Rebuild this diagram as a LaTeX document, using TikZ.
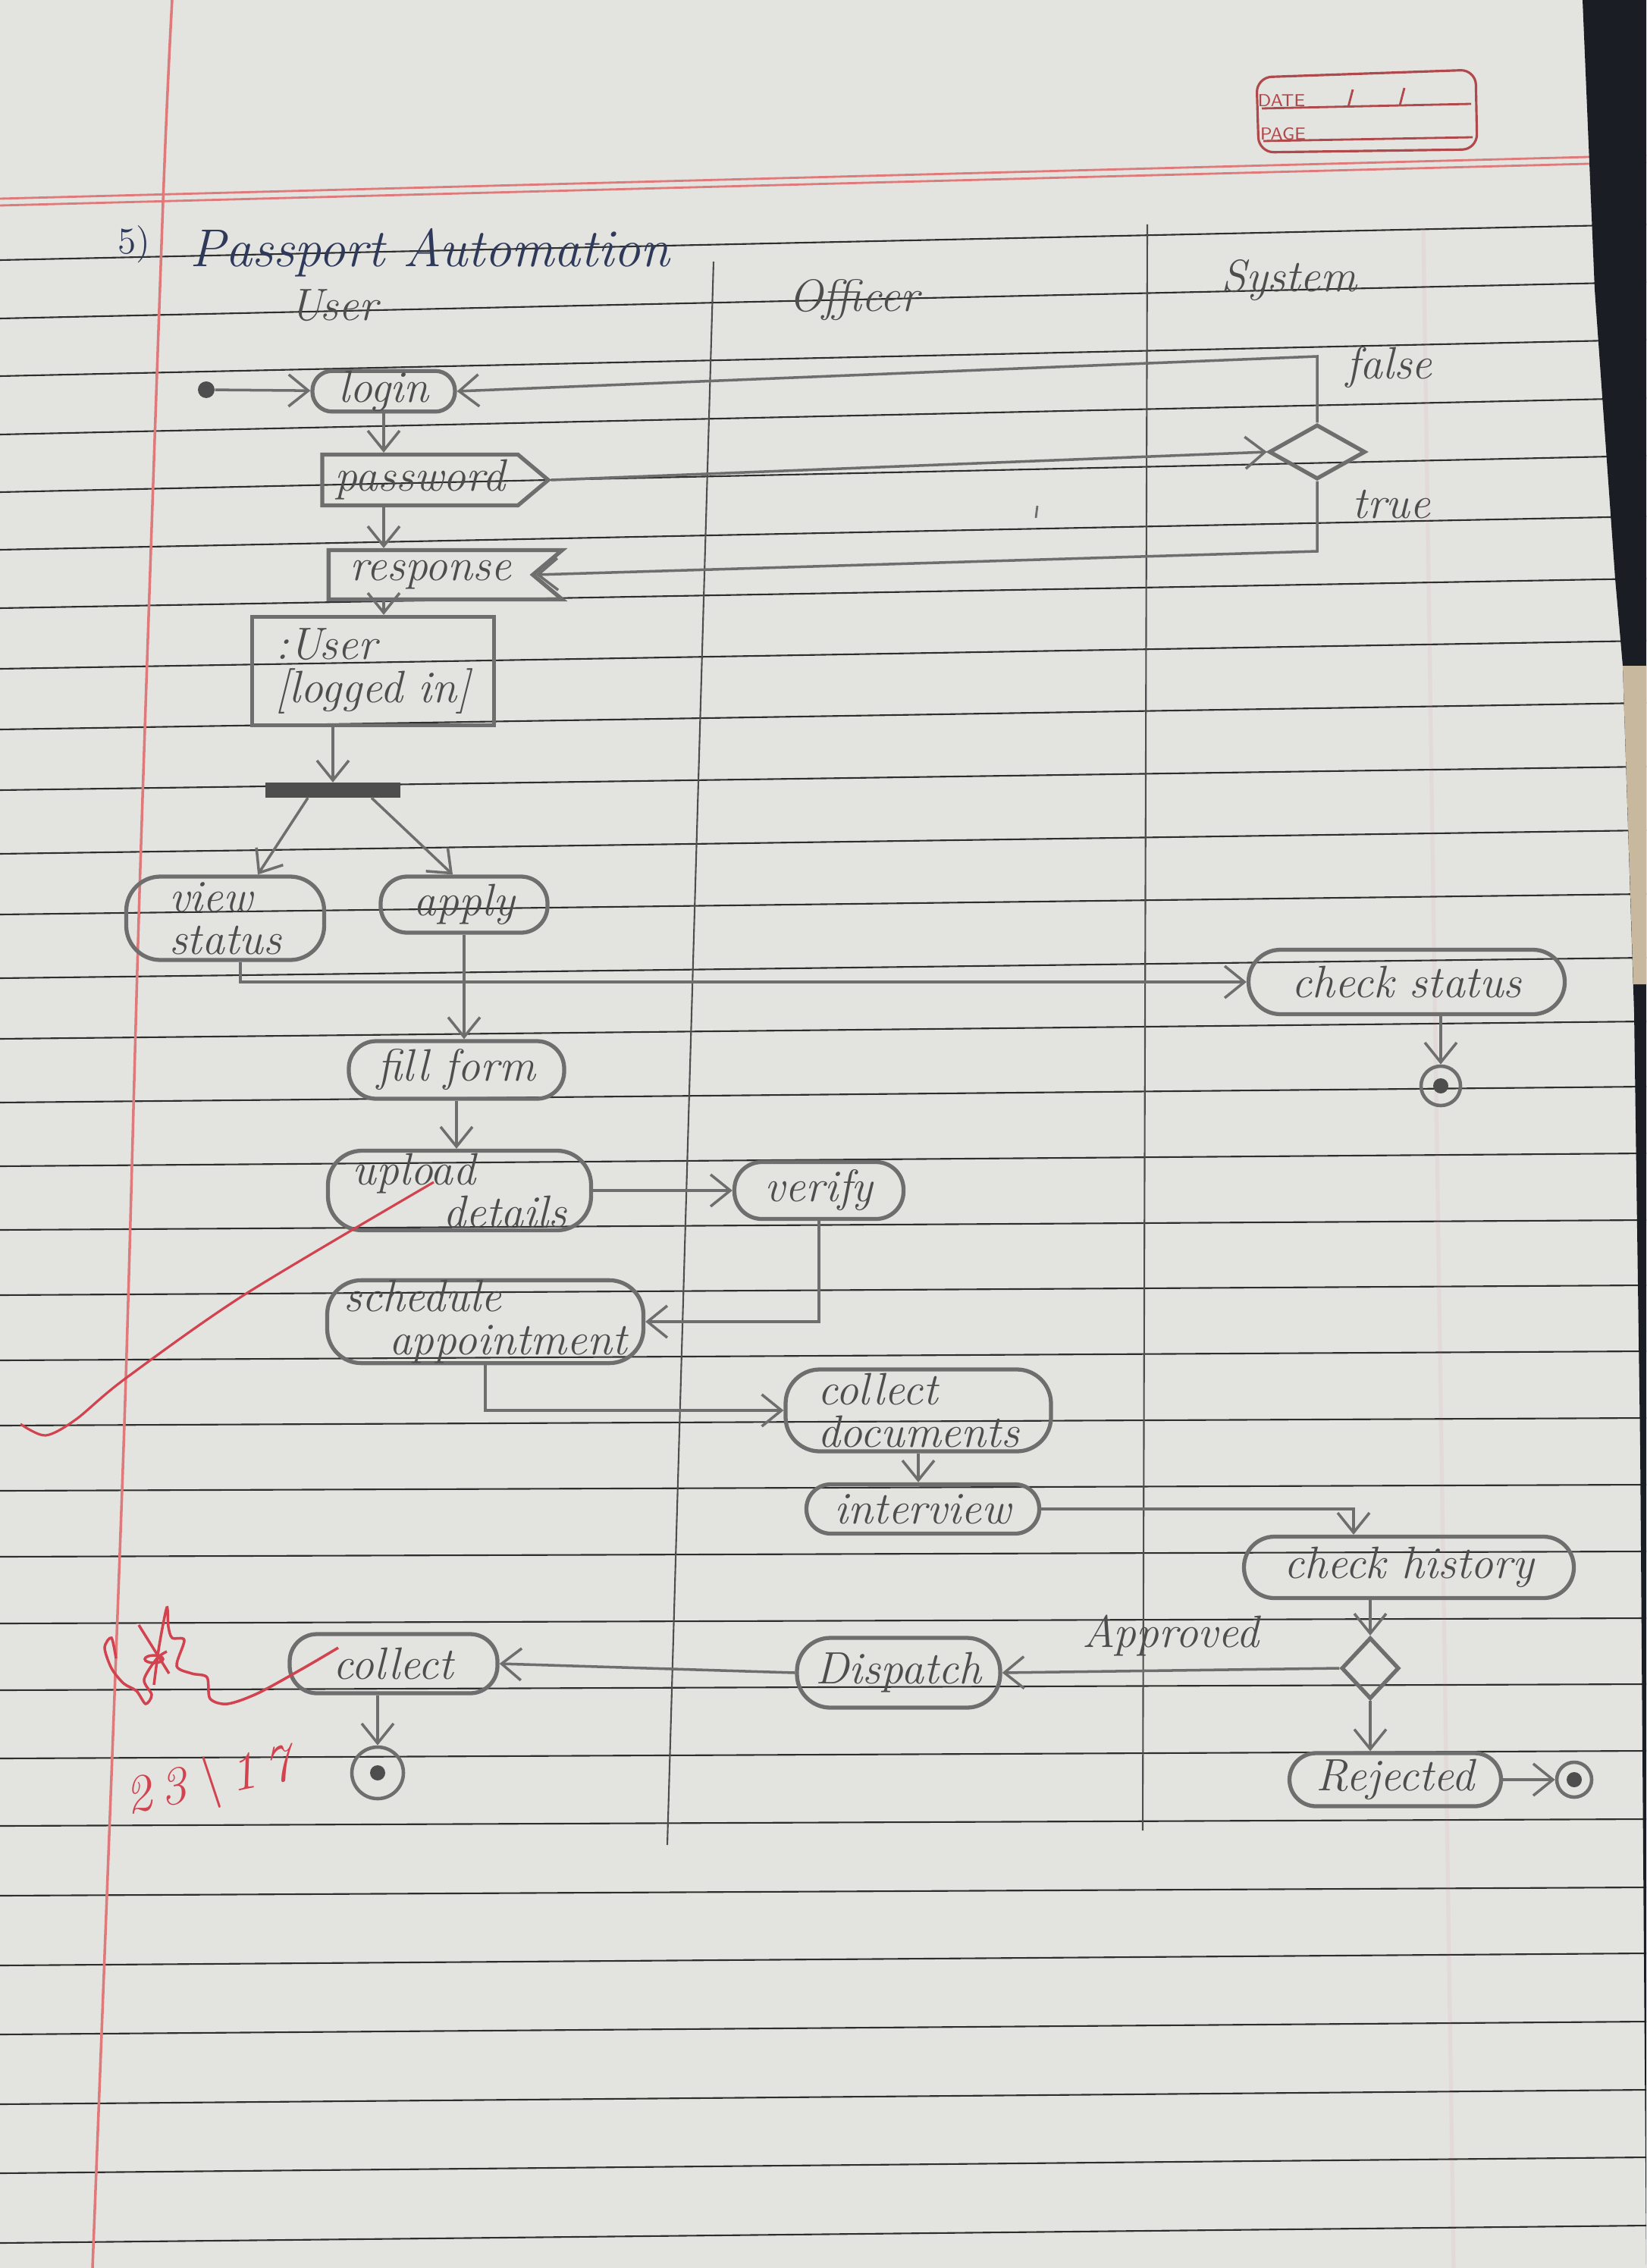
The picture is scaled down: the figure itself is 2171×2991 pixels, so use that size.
\documentclass[tikz,border=0pt]{standalone}
\usetikzlibrary{arrows.meta,shapes.geometric,shapes.symbols,calc}

\definecolor{paper}{HTML}{E3E3E0}
\definecolor{rule}{HTML}{2E2E2E}
\definecolor{margin}{HTML}{E07A7A}
\definecolor{pencil}{HTML}{6E6E6E}
\definecolor{graphite}{HTML}{4E4E4E}
\definecolor{ink}{HTML}{2F3A5A}
\definecolor{redink}{HTML}{D2424F}
\definecolor{stamp}{HTML}{B0494C}
\definecolor{desk}{HTML}{1B1D24}
\definecolor{deskpatch}{HTML}{C7B89E}

\newcommand{\handfont}{\fontsize{17}{19}\selectfont\itshape}
\newcommand{\handtwo}{\fontsize{17}{16}\selectfont\itshape}

\begin{document}
\begin{tikzpicture}[
  x=0.1mm, y=-0.1mm,
  act/.style={draw=pencil, line width=1.5pt, rounded corners=3mm, align=center,
    inner sep=0pt, font=\handfont, text=graphite},
  twoline/.style={act, rounded corners=4.5mm, align=left, font=\handtwo},
  sendbox/.style={act, rounded corners=0pt, shape=signal, signal to=east,
    signal pointer angle=80},
  recvbox/.style={act, rounded corners=0pt, shape=signal, signal to=nowhere,
    signal from=east, signal pointer angle=80},
  objbox/.style={act, rounded corners=0pt, align=left, font=\handtwo},
  forkbar/.style={fill=graphite, draw=graphite, inner sep=0pt},
  decision/.style={draw=pencil, line width=1.5pt, diamond, inner sep=0pt},
  start/.style={circle, fill=graphite, inner sep=0pt, minimum size=2.2mm},
  stop/.style={circle, draw=pencil, line width=1.3pt, inner sep=0pt,
    path picture={\fill[graphite] (path picture bounding box.center) circle (1mm);}},
  arrow/.style={-{Straight Barb[length=2.6mm,width=4.2mm]}, draw=pencil, line width=1pt},
  lane/.style={draw=graphite, line width=0.6pt},
  hand/.style={font=\handfont, text=graphite},
  stampfont/.style={font=\sffamily\fontsize{6.5}{7}\selectfont, text=stamp}
]
% paper
\fill[paper] (0,0) rectangle (2171,2991);
\useasboundingbox (0,0) rectangle (2171,2991);
\foreach \a/\b in {343/296, 420/372, 496/448, 573/525, 649/601, 725/681, 802/763,
    882/845, 962/927, 1042/1011, 1126/1095, 1206/1179, 1290/1263, 1370/1347,
    1454/1433, 1538/1521, 1622/1609, 1708/1695, 1794/1782, 1880/1870, 1966/1958,
    2053/2046, 2141/2134, 2229/2221, 2319/2309, 2408/2399, 2500/2489, 2592/2576,
    2683/2666, 2775/2756, 2866/2845, 2958/2935}
  \draw[rule, line width=0.6pt] (0,\a) -- (2171,\b);
\draw[margin, line width=0.8pt] (0,262) -- (2171,205);
\draw[margin, line width=0.8pt] (0,271) -- (2171,214);
\draw[margin, line width=1pt] plot[smooth] coordinates {(227,0) (215,267) (185,1145) (163,1908) (122,2991)};
\draw[margin, line width=1.5pt, opacity=0.08] (1877,300) -- (1917,2991);
\fill[desk] (2087,0) -- (2103,382) -- (2130,763) -- (2140,878) -- (2155,1336)
  -- (2163,1908) -- (2171,2991) -- (2171,0) -- cycle;
\fill[deskpatch] (2140,878) -- (2171,878) -- (2171,1298) -- (2154,1298) -- cycle;

% date / page stamp
\draw[stamp, line width=0.9pt, rounded corners=2mm] (1657,102) -- (1946,92) -- (1948,197) -- (1660,201) -- cycle;
\draw[stamp, line width=0.8pt] (1664,143) -- (1940,137);
\draw[stamp, line width=0.8pt] (1666,186) -- (1942,181);
\draw[stamp, line width=0.8pt] (1778,141) -- (1784,118);
\draw[stamp, line width=0.8pt] (1846,139) -- (1852,116);
\node[stampfont] (datelbl) at (1690,133) {DATE};
\node[stampfont] (pagelbl) at (1692,177) {PAGE};

% title and lanes
\node[text=ink, font=\fontsize{14}{16}\selectfont] (num) at (177,322) {5)};
\node[text=ink, font=\fontsize{20}{22}\selectfont\itshape] (title) at (567,333) {Passport Automation};
\node[hand] (userlane) at (440,403) {User};
\node[hand] (officerlane) at (1126,396) {Officer};
\node[hand] (systemlane) at (1700,370) {System};
\draw[lane] (941,345) -- (880,2433);
\draw[lane] (1513,296) -- (1507,2414);

% user side
\node[start] (init) at (272,514) {};
\node[act, rounded corners=2.6mm, minimum width=18.8mm, minimum height=5.3mm] (login) at (506,516) {login};
\node[sendbox, minimum width=29.8mm, minimum height=6.7mm] (pwd) at (554,633) {password};
\node[recvbox, minimum width=30.8mm, minimum height=6.5mm] (resp) at (568,758) {response};
\node[objbox, minimum width=31.9mm, minimum height=14.3mm, inner sep=1mm] (ubox) at (492,885) {:User\\{[}logged in{]}};
\node[forkbar, minimum width=17.6mm, minimum height=1.9mm] (bar) at (439,1042) {};
\node[twoline, minimum width=26.1mm, minimum height=11mm] (vstat) at (297,1211) {view\\status};
\node[act, rounded corners=3.5mm, minimum width=22mm, minimum height=7.4mm] (apply) at (612,1193) {apply};
\node[act, rounded corners=3.6mm, minimum width=28.4mm, minimum height=7.6mm] (fill) at (602,1411) {fill form};
\node[twoline, minimum width=34.7mm, minimum height=10.5mm] (upload) at (606,1570) {upload\\\qquad details};
\node[twoline, minimum width=41.7mm, minimum height=10.2mm] (sched) at (640,1743) {schedule\\\quad appointment};
\node[act, rounded corners=3.6mm, minimum width=27.4mm, minimum height=7.8mm] (collect) at (519,2194) {collect};
\node[stop, minimum size=6.8mm] (fin2) at (498,2338) {};

% officer side
\node[act, rounded corners=3.6mm, minimum width=22.3mm, minimum height=7.5mm] (verify) at (1080,1570) {verify};
\node[twoline, minimum width=35mm, minimum height=10.8mm] (colldoc) at (1211,1860) {collect\\documents};
\node[act, rounded corners=3.2mm, minimum width=30.7mm, minimum height=6.5mm] (interview) at (1217,1990) {interview};
\node[act, rounded corners=4.4mm, minimum width=26.8mm, minimum height=9.2mm] (dispatch) at (1185,2206) {Dispatch};

% system side
\node[decision, minimum width=12.7mm, minimum height=7.2mm] (dec1) at (1737,596) {};
\node[act, rounded corners=4.2mm, minimum width=41.7mm, minimum height=8.5mm] (chkstat) at (1855,1295) {check status};
\node[stop, minimum size=5.2mm] (fin1) at (1900,1432) {};
\node[act, rounded corners=4mm, minimum width=43.5mm, minimum height=8.1mm] (chkhist) at (1858,2067) {check history};
\node[decision, minimum width=7.6mm, minimum height=8.1mm] (dec2) at (1807,2200) {};
\node[act, rounded corners=3.5mm, minimum width=27.9mm, minimum height=7mm] (rej) at (1840,2347) {Rejected};
\node[stop, minimum size=4.6mm] (fin3) at (2076,2347) {};

\coordinate (fcorner) at (1737,470);
\coordinate (tcorner) at (1737,727);
\node[hand] (falselbl) at (1832,485) {false};
\node[hand] (truelbl) at (1835,665) {true};

% flows
\draw[arrow] (init) -- (login);
\draw[arrow] (login.south) -- (login.south |- pwd.north);
\draw[arrow] (login.south |- pwd.south) -- (login.south |- resp.north);
\draw[arrow] (login.south |- resp.south) -- (login.south |- ubox.north);
\draw[arrow] (pwd.east) -- (dec1.west);
\draw[arrow] (dec1.north) -- (fcorner) -- (login.east);
\draw[arrow] (dec1.south) -- (tcorner) -- (resp.east);
\draw[arrow] (bar.north |- ubox.south) -- (bar.north);
\draw[arrow] ($(bar.south)+(-33,0)$) -- ($(vstat.north)+(43,0)$);
\draw[arrow] ($(bar.south)+(51,0)$) -- ($(apply.north)+(-15,0)$);
\draw[arrow] ($(vstat.south)+(20,0)$) |- (chkstat.west);
\draw[arrow] (fin1 |- chkstat.south) -- (fin1);
\draw[arrow] (apply.south) -- (apply.south |- fill.north);
\draw[arrow] (fill.south) -- (fill.south |- upload.north);
\draw[arrow] (upload.east) -- (verify.west);
\draw[arrow] (verify.south) |- (sched.east);
\draw[arrow] (sched.south) |- (colldoc.west);
\draw[arrow] (colldoc.south) -- (colldoc.south |- interview.north);
\draw[arrow] (interview.east) -| ($(chkhist.north)+(-73,0)$);
\draw[arrow] (dec2.north |- chkhist.south) -- (dec2.north);
\draw[arrow] (dec2.west) -- node[hand, above=0.5mm] (apprlbl) {Approved} (dispatch.east);
\draw[arrow] (dispatch.west) -- (collect.east);
\draw[arrow] (fin2 |- collect.south) -- (fin2);
\draw[arrow] (dec2.south) -- (dec2.south |- rej.north);
\draw[arrow] (rej.east) -- (fin3);
\draw[draw=pencil, line width=0.8pt] (1368,667) -- (1366,683);

% red marks
\draw[redink, line width=0.9pt] plot[smooth] coordinates {(27,1878) (60,1893) (100,1872) (164,1819) (323,1707) (572,1559)};
\draw[redink, line width=1pt] plot[smooth] coordinates {(153,2187) (147,2160) (138,2173) (147,2200) (163,2220) (180,2230) (192,2247) (200,2235) (190,2215) (207,2187) (220,2178)};
\draw[redink, line width=1pt] (183,2143) -- (223,2207);
\draw[redink, line width=1pt] (203,2188) ellipse (12 and 5);
\draw[redink, line width=1pt] plot[smooth] coordinates {(203,2222) (210,2170) (220,2120) (222,2145) (227,2160) (243,2163) (233,2197) (253,2207) (273,2212) (277,2240) (300,2247) (340,2233) (400,2200) (446,2173)};
\node[text=redink, font=\fontsize{20}{22}\selectfont\itshape, rotate=12] (datemark) at (275,2352) {2\,3\,\textbackslash\,1\,7};
\end{tikzpicture}
\end{document}
